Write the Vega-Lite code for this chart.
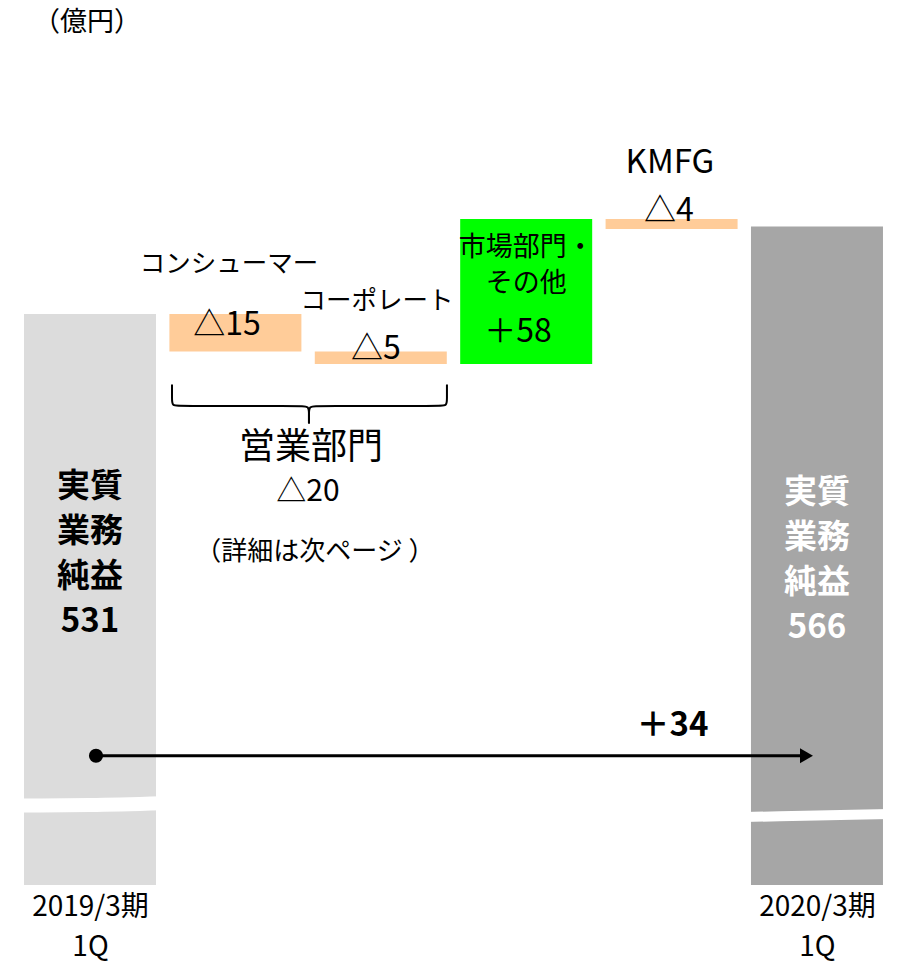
{
  "$schema": "https://vega.github.io/schema/vega-lite/v6.json",
  "width": 900,
  "height": 885,
  "autosize": {"type": "none"},
  "padding": {"left": 0, "top": 0, "right": 0, "bottom": 83},
  "background": "white",
  "config": {"view": {"stroke": null}, "font": "Noto Sans CJK JP"},
  "datasets": {
    "bars": [
      {"slot": 0, "item": "2019/3期 1Q", "start": 0, "val": 531, "kind": "base2019"},
      {"slot": 1, "item": "コンシューマー", "start": 531, "val": 516, "kind": "neg"},
      {"slot": 2, "item": "コーポレート", "start": 516, "val": 511, "kind": "neg"},
      {"slot": 3, "item": "市場部門・その他", "start": 511, "val": 569, "kind": "pos"},
      {"slot": 4, "item": "KMFG", "start": 569, "val": 565, "kind": "neg"},
      {"slot": 5, "item": "2020/3期 1Q", "start": 0, "val": 566, "kind": "base2020"}
    ],
    "breaks": [
      {"bar": "b2019", "slot": -0.5, "val": 334.4},
      {"bar": "b2019", "slot": 0, "val": 334.6},
      {"bar": "b2019", "slot": 0.5, "val": 335.3},
      {"bar": "b2020", "slot": 4.5, "val": 329.8},
      {"bar": "b2020", "slot": 5, "val": 330.4},
      {"bar": "b2020", "slot": 5.5, "val": 331.0}
    ],
    "brace": [
      {"half": "L", "i": 0, "slot": 0.564, "val": 502.8},
      {"half": "L", "i": 1, "slot": 0.564, "val": 497.0},
      {"half": "L", "i": 2, "slot": 0.564, "val": 494.2},
      {"half": "L", "i": 3, "slot": 0.619, "val": 494.2},
      {"half": "L", "i": 4, "slot": 1.444, "val": 494.2},
      {"half": "L", "i": 5, "slot": 1.506, "val": 494.2},
      {"half": "L", "i": 6, "slot": 1.506, "val": 491.0},
      {"half": "L", "i": 7, "slot": 1.506, "val": 487.2},
      {"half": "R", "i": 0, "slot": 2.455, "val": 502.8},
      {"half": "R", "i": 1, "slot": 2.455, "val": 497.0},
      {"half": "R", "i": 2, "slot": 2.455, "val": 494.2},
      {"half": "R", "i": 3, "slot": 2.400, "val": 494.2},
      {"half": "R", "i": 4, "slot": 1.568, "val": 494.2},
      {"half": "R", "i": 5, "slot": 1.506, "val": 494.2},
      {"half": "R", "i": 6, "slot": 1.506, "val": 491.0},
      {"half": "R", "i": 7, "slot": 1.506, "val": 487.2}
    ],
    "arrow": [
      {"slot": 0, "slot2": 5, "val": 354.3}
    ],
    "textRegular": [
      {"role": "unit", "label": "（億円）", "slot": -0.02, "val": 647.5},
      {"role": "segment", "label": "コンシューマー", "slot": 0.956, "val": 551.0},
      {"role": "segment", "label": "コーポレート", "slot": 1.974, "val": 536.2},
      {"role": "delta", "label": "△15", "slot": 0.942, "val": 526.6},
      {"role": "delta", "label": "△5", "slot": 1.967, "val": 517.0},
      {"role": "market", "label": "市場部門・\nその他", "slot": 3.0, "val": 557.4},
      {"role": "delta", "label": "＋58", "slot": 2.944, "val": 524.0},
      {"role": "kmfg", "label": "KMFG", "slot": 3.989, "val": 591.6},
      {"role": "delta", "label": "△4", "slot": 3.982, "val": 572.2},
      {"role": "group", "label": "営業部門", "slot": 1.520, "val": 477.6},
      {"role": "groupDelta", "label": "△20", "slot": 1.499, "val": 459.8},
      {"role": "note", "label": "（詳細は次ページ ）", "slot": 1.547, "val": 435.8}
    ],
    "textBold": [
      {"role": "total2019", "label": "実質\n業務\n純益\n531", "slot": 0, "val": 461.8},
      {"role": "total2020", "label": "実質\n業務\n純益\n566", "slot": 5, "val": 459.4},
      {"role": "change", "label": "＋34", "slot": 4.006, "val": 366.3}
    ]
  },
  "encoding": {
    "x": {
      "field": "slot",
      "type": "quantitative",
      "scale": {"domain": [-0.619, 5.571], "nice": false, "zero": false, "padding": 0},
      "axis": {
        "values": [0, 5],
        "labelExpr": "datum.value == 0 ? ['2019/3期', '1Q'] : ['2020/3期', '1Q']",
        "domain": false,
        "ticks": false,
        "tickSize": 0,
        "grid": false,
        "title": null,
        "labelFont": "Noto Sans CJK JP",
        "labelFontSize": 28,
        "labelLineHeight": 40,
        "labelColor": "black",
        "labelPadding": 8,
        "labelFlush": false,
        "labelOverlap": false
      }
    },
    "y": {
      "field": "val",
      "type": "quantitative",
      "scale": {"domain": [302.6, 656.6], "nice": false, "zero": false, "padding": 0},
      "axis": null
    }
  },
  "layer": [
    {
      "data": {"name": "bars"},
      "mark": {"type": "bar", "width": 132, "clip": true},
      "encoding": {
        "y2": {"field": "start"},
        "color": {
          "field": "kind",
          "type": "nominal",
          "scale": {"domain": ["base2019", "neg", "pos", "base2020"], "range": ["#dcdcdc", "#ffcc99", "#00ff00", "#a6a6a6"]},
          "legend": null
        }
      }
    },
    {
      "data": {"name": "breaks"},
      "mark": {"type": "line", "color": "white", "interpolate": "monotone", "clip": true},
      "encoding": {
        "detail": {"field": "bar"},
        "strokeWidth": {
          "field": "bar",
          "type": "nominal",
          "scale": {"domain": ["b2019", "b2020"], "range": [14, 10]},
          "legend": null
        }
      }
    },
    {
      "data": {"values": [{}]},
      "mark": {"type": "rule", "color": "#a0a0a0", "strokeWidth": 2.5},
      "encoding": {
        "x": {"datum": -0.488},
        "x2": {"datum": 5.461},
        "y": {"datum": 302.6}
      }
    },
    {
      "data": {"name": "brace"},
      "mark": {"type": "line", "color": "black", "strokeWidth": 2, "interpolate": "basis"},
      "encoding": {
        "detail": {"field": "half"},
        "order": {"field": "i", "type": "quantitative"}
      }
    },
    {
      "data": {"name": "arrow"},
      "mark": {"type": "rule", "color": "black", "strokeWidth": 3, "xOffset": 6, "x2Offset": -14},
      "encoding": {
        "x2": {"field": "slot2"}
      }
    },
    {
      "data": {"name": "arrow"},
      "mark": {"type": "point", "shape": "circle", "filled": true, "opacity": 1, "color": "black", "size": 200, "xOffset": 6},
      "encoding": {}
    },
    {
      "data": {"name": "arrow"},
      "mark": {"type": "point", "shape": "triangle-right", "filled": true, "opacity": 1, "color": "black", "size": 225, "xOffset": -10.5},
      "encoding": {
        "x": {"field": "slot2"}
      }
    },
    {
      "data": {"name": "textRegular"},
      "transform": [{"filter": "datum.role == 'segment'"}],
      "mark": {"type": "text", "align": "center", "baseline": "middle", "fontSize": 25.5, "color": "black", "font": "Noto Sans CJK JP"},
      "encoding": {"text": {"field": "label"}}
    },
    {
      "data": {"name": "textRegular"},
      "transform": [{"filter": "datum.role == 'unit' || datum.role == 'market'"}],
      "mark": {"type": "text", "align": "center", "baseline": "middle", "fontSize": 27, "lineBreak": "\n", "lineHeight": 36, "color": "black", "font": "Noto Sans CJK JP"},
      "encoding": {"text": {"field": "label"}}
    },
    {
      "data": {"name": "textRegular"},
      "transform": [{"filter": "datum.role == 'delta'"}],
      "mark": {"type": "text", "align": "center", "baseline": "middle", "fontSize": 32, "color": "black", "font": "Noto Sans CJK JP"},
      "encoding": {"text": {"field": "label"}}
    },
    {
      "data": {"name": "textRegular"},
      "transform": [{"filter": "datum.role == 'kmfg'"}],
      "mark": {"type": "text", "align": "center", "baseline": "middle", "fontSize": 33, "color": "black", "font": "Noto Sans CJK JP"},
      "encoding": {"text": {"field": "label"}}
    },
    {
      "data": {"name": "textRegular"},
      "transform": [{"filter": "datum.role == 'group'"}],
      "mark": {"type": "text", "align": "center", "baseline": "middle", "fontSize": 36, "color": "black", "font": "Noto Sans CJK JP"},
      "encoding": {"text": {"field": "label"}}
    },
    {
      "data": {"name": "textRegular"},
      "transform": [{"filter": "datum.role == 'groupDelta'"}],
      "mark": {"type": "text", "align": "center", "baseline": "middle", "fontSize": 30, "color": "black", "font": "Noto Sans CJK JP"},
      "encoding": {"text": {"field": "label"}}
    },
    {
      "data": {"name": "textRegular"},
      "transform": [{"filter": "datum.role == 'note'"}],
      "mark": {"type": "text", "align": "center", "baseline": "middle", "fontSize": 26, "color": "black", "font": "Noto Sans CJK JP"},
      "encoding": {"text": {"field": "label"}}
    },
    {
      "data": {"name": "textBold"},
      "mark": {"type": "text", "align": "center", "baseline": "middle", "lineBreak": "\n", "lineHeight": 45, "fontSize": 33, "fontWeight": "bold", "font": "Noto Sans CJK JP"},
      "encoding": {
        "text": {"field": "label"},
        "color": {
          "field": "role",
          "type": "nominal",
          "scale": {"domain": ["total2019", "total2020", "change"], "range": ["black", "white", "black"]},
          "legend": null
        }
      }
    }
  ],
  "resolve": {"scale": {"color": "independent", "strokeWidth": "independent"}}
}
